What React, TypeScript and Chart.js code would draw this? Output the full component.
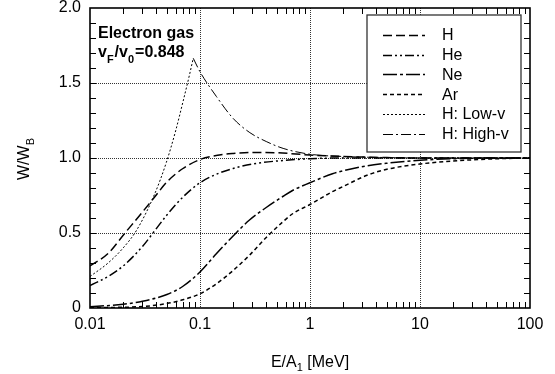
import React, { useEffect, useRef } from "react";
import { Chart, registerables } from "chart.js";

Chart.register(...registerables);

const H_E = [0.01, 0.0146, 0.0208, 0.03, 0.0387, 0.05, 0.07, 0.1, 0.15, 0.2, 0.3, 0.5, 1, 2, 5, 10, 100];
const H_W = [0.28, 0.364, 0.5, 0.64, 0.74, 0.84, 0.93, 0.99, 1.02, 1.03, 1.037, 1.035, 1.02, 1.01, 1.003, 1.0, 1.0];

const HE_E = [0.01, 0.0146, 0.02, 0.03, 0.0374, 0.05, 0.07, 0.1, 0.15, 0.2, 0.3, 0.5, 1, 2, 100];
const HE_W = [0.15, 0.21, 0.28, 0.41, 0.5, 0.62, 0.74, 0.835, 0.9, 0.93, 0.96, 0.98, 0.995, 1.0, 1.0];

const NE_E = [0.01, 0.02, 0.03, 0.05, 0.07, 0.1, 0.14, 0.2, 0.28, 0.4, 0.57, 0.7, 1, 1.6, 2, 3.3, 5, 10, 20, 50, 100];
const NE_W = [0.008, 0.025, 0.045, 0.09, 0.145, 0.24, 0.36, 0.48, 0.585, 0.67, 0.745, 0.785, 0.835, 0.895, 0.915, 0.948, 0.965, 0.985, 0.995, 1.0, 1.0];

const AR_E = [0.01, 0.03, 0.05, 0.07, 0.1, 0.14, 0.2, 0.28, 0.4, 0.57, 0.7, 1, 1.6, 2, 3.3, 5, 10, 20, 50, 100];
const AR_W = [0.002, 0.01, 0.03, 0.055, 0.095, 0.16, 0.25, 0.35, 0.47, 0.576, 0.63, 0.69, 0.776, 0.81, 0.885, 0.925, 0.96, 0.98, 0.995, 1.0];

const LOWV_E = [0.01, 0.0146, 0.02, 0.0266, 0.0387, 0.0494, 0.06, 0.0703, 0.08, 0.0868];
const LOWV_W = [0.21, 0.3, 0.4, 0.52, 0.76, 0.97, 1.18, 1.38, 1.55, 1.665];

const HIGHV_E = [0.0868, 0.1, 0.141, 0.2, 0.284, 0.4, 0.57, 1, 2, 5, 10, 100];
const HIGHV_W = [1.665, 1.575, 1.41, 1.264, 1.169, 1.11, 1.064, 1.025, 1.01, 1.003, 1.0, 1.0];

const SERIES_LABELS = ["H", "He", "Ne", "Ar", "H: Low-v", "H: High-v"];
const X_TICKS = [0.01, 0.1, 1, 10, 100];
const Y_TICKS = [0, 0.5, 1, 1.5, 2];

const FONT = "'Liberation Sans', Arial, Helvetica, sans-serif";

const toPts = (xs: number[], ys: number[]) => xs.map((x, i) => ({ x, y: ys[i] }));

const overlay = {
  id: "overlay",
  beforeDatasetsDraw(chart: any) {
    const { ctx, chartArea: a, scales } = chart;
    const xs = scales.x, ys = scales.y;
    ctx.save();
    ctx.strokeStyle = "#333";
    ctx.lineWidth = 1;
    ctx.setLineDash([1, 1]);
    [0.1, 1, 10].forEach((v) => {
      const px = Math.round(xs.getPixelForValue(v)) + 0.5;
      ctx.beginPath();
      ctx.moveTo(px, a.top);
      ctx.lineTo(px, a.bottom);
      ctx.stroke();
    });
    [0.5, 1, 1.5].forEach((v) => {
      const py = Math.round(ys.getPixelForValue(v)) + 0.5;
      ctx.beginPath();
      ctx.moveTo(a.left, py);
      ctx.lineTo(a.right, py);
      ctx.stroke();
    });
    ctx.restore();
  },
  afterDraw(chart: any) {
    const { ctx, chartArea: a, scales } = chart;
    const xs = scales.x, ys = scales.y;
    ctx.save();
    ctx.strokeStyle = "#000";
    ctx.lineWidth = 1;
    ctx.setLineDash([]);
    const tl = 6;
    for (let d = 0.01; d < 99; d *= 10) {
      for (let m = 2; m <= 9; m++) {
        const px = Math.round(xs.getPixelForValue(d * m)) + 0.5;
        ctx.beginPath();
        ctx.moveTo(px, a.bottom);
        ctx.lineTo(px, a.bottom - tl);
        ctx.moveTo(px, a.top);
        ctx.lineTo(px, a.top + tl);
        ctx.stroke();
      }
    }
    for (let i = 1; i < 20; i++) {
      const py = Math.round(ys.getPixelForValue(i / 10)) + 0.5;
      ctx.beginPath();
      ctx.moveTo(a.left, py);
      ctx.lineTo(a.left + tl, py);
      ctx.moveTo(a.right, py);
      ctx.lineTo(a.right - tl, py);
      ctx.stroke();
    }
    ctx.lineWidth = 1.6;
    ctx.strokeRect(a.left, a.top, a.right - a.left, a.bottom - a.top);

    // legend
    const lx = 367, ly = 15, lw = 154, lh = 137;
    ctx.fillStyle = "#fff";
    ctx.fillRect(lx, ly, lw, lh);
    ctx.lineWidth = 1.3;
    ctx.strokeStyle = "#333";
    ctx.strokeRect(lx, ly, lw, lh);
    ctx.font = `16px ${FONT}`;
    ctx.textBaseline = "middle";
    ctx.fillStyle = "#000";
    chart.data.datasets.forEach((ds: any, i: number) => {
      const y = 35 + i * 19.7;
      ctx.strokeStyle = "#000";
      ctx.lineWidth = ds.borderWidth;
      ctx.setLineDash(ds.borderDash);
      ctx.beginPath();
      ctx.moveTo(383, Math.round(y) + 0.5);
      ctx.lineTo(425, Math.round(y) + 0.5);
      ctx.stroke();
      ctx.setLineDash([]);
      ctx.fillText(ds.label, 442, y + 1);
    });

    // annotation
    ctx.textBaseline = "alphabetic";
    ctx.fillStyle = "#000";
    ctx.font = `bold 16px ${FONT}`;
    ctx.fillText("Electron gas", 98, 38);
    let x = 98;
    const big = `bold 16px ${FONT}`, small = `bold 11px ${FONT}`;
    const parts: [string, boolean][] = [["v", false], ["F", true], ["/v", false], ["0", true], ["=0.848", false]];
    parts.forEach(([t, sub]) => {
      ctx.font = sub ? small : big;
      ctx.fillText(t, x, sub ? 63 : 57);
      x += ctx.measureText(t).width + (sub ? 1 : 0);
    });

    // x title
    const normal = `16px ${FONT}`, nsmall = `11px ${FONT}`;
    const xparts: [string, boolean][] = [["E/A", false], ["1", true], [" [MeV]", false]];
    let tw = 0;
    xparts.forEach(([t, sub]) => { ctx.font = sub ? nsmall : normal; tw += ctx.measureText(t).width; });
    x = (a.left + a.right) / 2 - tw / 2;
    xparts.forEach(([t, sub]) => {
      ctx.font = sub ? nsmall : normal;
      ctx.fillText(t, x, sub ? 371 : 367);
      x += ctx.measureText(t).width;
    });

    // y title
    ctx.translate(29, 180);
    ctx.rotate(-Math.PI / 2);
    x = 0;
    const yparts: [string, boolean][] = [["W/W", false], ["B", true]];
    yparts.forEach(([t, sub]) => {
      ctx.font = sub ? nsmall : normal;
      ctx.fillText(t, x, sub ? 5 : 0);
      x += ctx.measureText(t).width;
    });
    ctx.restore();
  },
};

export default function App() {
  const ref = useRef<HTMLCanvasElement>(null);
  useEffect(() => {
    if (!ref.current) return;
    const mk = (label: string, xs: number[], ys: number[], dash: number[], w: number) => ({
      label,
      data: toPts(xs, ys),
      borderColor: "#000",
      borderWidth: w,
      borderDash: dash,
      pointRadius: 0,
      fill: false,
      cubicInterpolationMode: "monotone" as const,
    });
    const chart = new Chart(ref.current, {
      type: "line",
      data: {
        datasets: [
          mk(SERIES_LABELS[0], H_E, H_W, [9, 4], 1.5),
          mk(SERIES_LABELS[1], HE_E, HE_W, [9, 3, 2, 3, 2, 3], 1.5),
          mk(SERIES_LABELS[2], NE_E, NE_W, [14, 3, 3, 3], 1.5),
          mk(SERIES_LABELS[3], AR_E, AR_W, [4, 3], 1.5),
          mk(SERIES_LABELS[4], LOWV_E, LOWV_W, [2, 2], 1),
          mk(SERIES_LABELS[5], HIGHV_E, HIGHV_W, [10, 3, 2, 3], 1),
        ],
      },
      plugins: [overlay],
      options: {
        animation: false,
        responsive: false,
        devicePixelRatio: 1,
        layout: { padding: { left: 0, right: 25, top: 8, bottom: 0 } },
        plugins: { legend: { display: false }, tooltip: { enabled: false } },
        scales: {
          x: {
            type: "logarithmic",
            min: 0.01,
            max: 100,
            grid: { display: false, drawTicks: false },
            border: { display: false },
            afterBuildTicks: (s: any) => { s.ticks = X_TICKS.map((v) => ({ value: v })); },
            afterFit: (s: any) => { s.height = 66; s.paddingLeft = 0; s.paddingRight = 0; },
            ticks: {
              color: "#000",
              font: { family: FONT, size: 16 },
              padding: 7,
              maxRotation: 0,
              autoSkip: false,
              callback: (v: any) => String(Number(v)),
            },
          },
          y: {
            type: "linear",
            min: 0,
            max: 2,
            grid: { display: false, drawTicks: false },
            border: { display: false },
            afterBuildTicks: (s: any) => { s.ticks = Y_TICKS.map((v) => ({ value: v })); },
            afterFit: (s: any) => { s.width = 90; s.paddingTop = 0; s.paddingBottom = 0; },
            ticks: {
              color: "#000",
              font: { family: FONT, size: 16 },
              padding: 9,
              callback: (v: any) => (Number(v) === 0 ? "0" : Number(v).toFixed(1)),
            },
          },
        },
      },
    });
    return () => chart.destroy();
  }, []);
  return (
    <div style={{ position: "fixed", left: 0, top: 0, width: 555, height: 374, background: "#fff" }}>
      <canvas ref={ref} width={555} height={374} style={{ display: "block" }} />
    </div>
  );
}
